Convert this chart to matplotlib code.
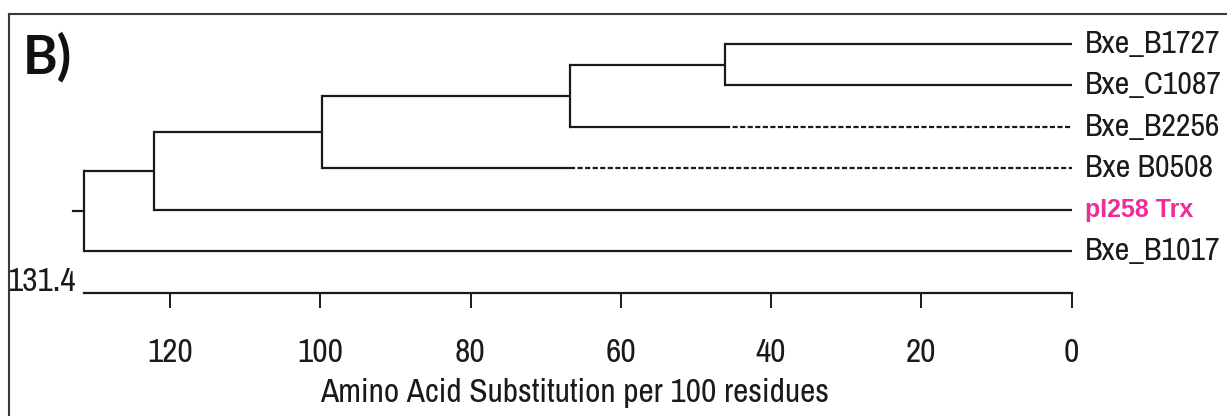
import matplotlib
matplotlib.use("Agg")
import os
import matplotlib.pyplot as plt
from matplotlib.lines import Line2D
from matplotlib import font_manager as fm

# ---- data ----
leaves = ["Bxe_B1727", "Bxe_C1087", "Bxe_B2256", "Bxe B0508", "pI258 Trx", "Bxe_B1017"]
merge_names = ["n1", "n2", "n3", "n4", "root"]
merge_children = [("Bxe_B1727", "Bxe_C1087"), ("n1", "Bxe_B2256"), ("n2", "Bxe B0508"),
                  ("n3", "pI258 Trx"), ("n4", "Bxe_B1017")]
merge_heights = [46.1, 66.7, 99.8, 122.1, 131.4]
dashed_from = {"Bxe_B2256": 46.1, "Bxe B0508": 66.7}
highlight = "pI258 Trx"
xticks = [120, 100, 80, 60, 40, 20, 0]
root_label = "131.4"
xlabel = "Amino Acid Substitution per 100 residues"
panel_label = "B)"

# ---- layout ----
W, H = 1227, 416
PX = 7.515          # pixels per unit
X0 = 1071.7         # pixel of value 0
LEAF_Y0, LEAF_DY = 44.0, 41.4
AXIS_Y = 293.3
LW = 1.6
COL = "#1a1a1a"
PINK = "#ED2D98"

files = {os.path.basename(f.fname): f.fname for f in fm.fontManager.ttflist}
narrow_path = None
for cand in ["LiberationSansNarrow-Regular.ttf", "ArchivoNarrow[wght].ttf", "DejaVuSansCondensed.ttf"]:
    if cand in files:
        narrow_path = files[cand]
        break


def NP(size):
    if narrow_path:
        return fm.FontProperties(fname=narrow_path, size=size)
    return fm.FontProperties(family=["DejaVu Sans"], size=size * 0.8)


fig = plt.figure(figsize=(W / 100, H / 100), dpi=100)
ax = fig.add_axes([0, 0, 1, 1])
ax.set_xlim(X0 / PX, -(W - X0) / PX)
ax.set_ylim(H, 0)
ax.patch.set_alpha(0)

ypos = {name: LEAF_Y0 + i * LEAF_DY for i, name in enumerate(leaves)}
xpos = {name: 0.0 for name in leaves}

for name, (a, b), h in zip(merge_names, merge_children, merge_heights):
    ax.plot([h, h], [ypos[a], ypos[b]], color=COL, lw=LW, solid_capstyle="projecting")
    for c in (a, b):
        if c in dashed_from:
            d = dashed_from[c]
            ax.plot([h, d], [ypos[c], ypos[c]], color=COL, lw=LW, solid_capstyle="butt")
            ax.plot([d, xpos[c]], [ypos[c], ypos[c]], color=COL, lw=LW,
                    linestyle=(0, (2.3, 1.1)))
        else:
            ax.plot([h, xpos[c]], [ypos[c], ypos[c]], color=COL, lw=LW, solid_capstyle="butt")
    ypos[name] = (ypos[a] + ypos[b]) / 2
    xpos[name] = h

root_h = merge_heights[-1]
ax.plot([root_h, root_h + 1.55], [ypos["root"], ypos["root"]], color=COL, lw=LW)

# leaf labels
for name in leaves:
    if name == highlight:
        ax.annotate(name, (0, ypos[name]), xytext=(9.5, 0), textcoords="offset points",
                    ha="left", va="center", fontsize=18, fontweight="bold",
                    family=["Liberation Sans", "DejaVu Sans"], color=PINK)
    else:
        ax.annotate(name, (0, ypos[name]), xytext=(9.5, 0), textcoords="offset points",
                    ha="left", va="center", fontproperties=NP(23), color=COL)

# scale axis
for s in ["top", "left", "right"]:
    ax.spines[s].set_visible(False)
ax.spines["bottom"].set_position(("data", AXIS_Y))
ax.spines["bottom"].set_bounds(root_h, 0)
ax.spines["bottom"].set_linewidth(LW)
ax.spines["bottom"].set_color(COL)
ax.set_yticks([])
ax.set_xticks(xticks)
ax.set_xticklabels([str(t) for t in xticks], fontproperties=NP(24))
ax.tick_params(axis="x", direction="out", length=11, width=1.4, pad=21, colors=COL)

ax.annotate(root_label, (root_h, AXIS_Y), xytext=(-5.8, 1.5), textcoords="offset points",
            ha="right", va="baseline", fontproperties=NP(24), color=COL)

ax.set_xlabel(xlabel, fontproperties=NP(24), color=COL)
ax.xaxis.set_label_coords(575 / W, 1 - 402 / H)
ax.xaxis.label.set_va("baseline")

# panel label and frame
fig.text(23 / W, 1 - 73 / H, panel_label, fontsize=38, fontweight="bold",
         family=["Lato", "DejaVu Sans"], va="baseline", ha="left", color="#111111")
fig.add_artist(Line2D([8.5 / W, 8.5 / W], [0, 1 - 14 / H], transform=fig.transFigure,
                      color="#3a3a3a", lw=1.5))
fig.add_artist(Line2D([8.5 / W, 1], [1 - 14 / H, 1 - 14 / H], transform=fig.transFigure,
                      color="#3a3a3a", lw=1.5))

fig.savefig("out.png", dpi=100)
